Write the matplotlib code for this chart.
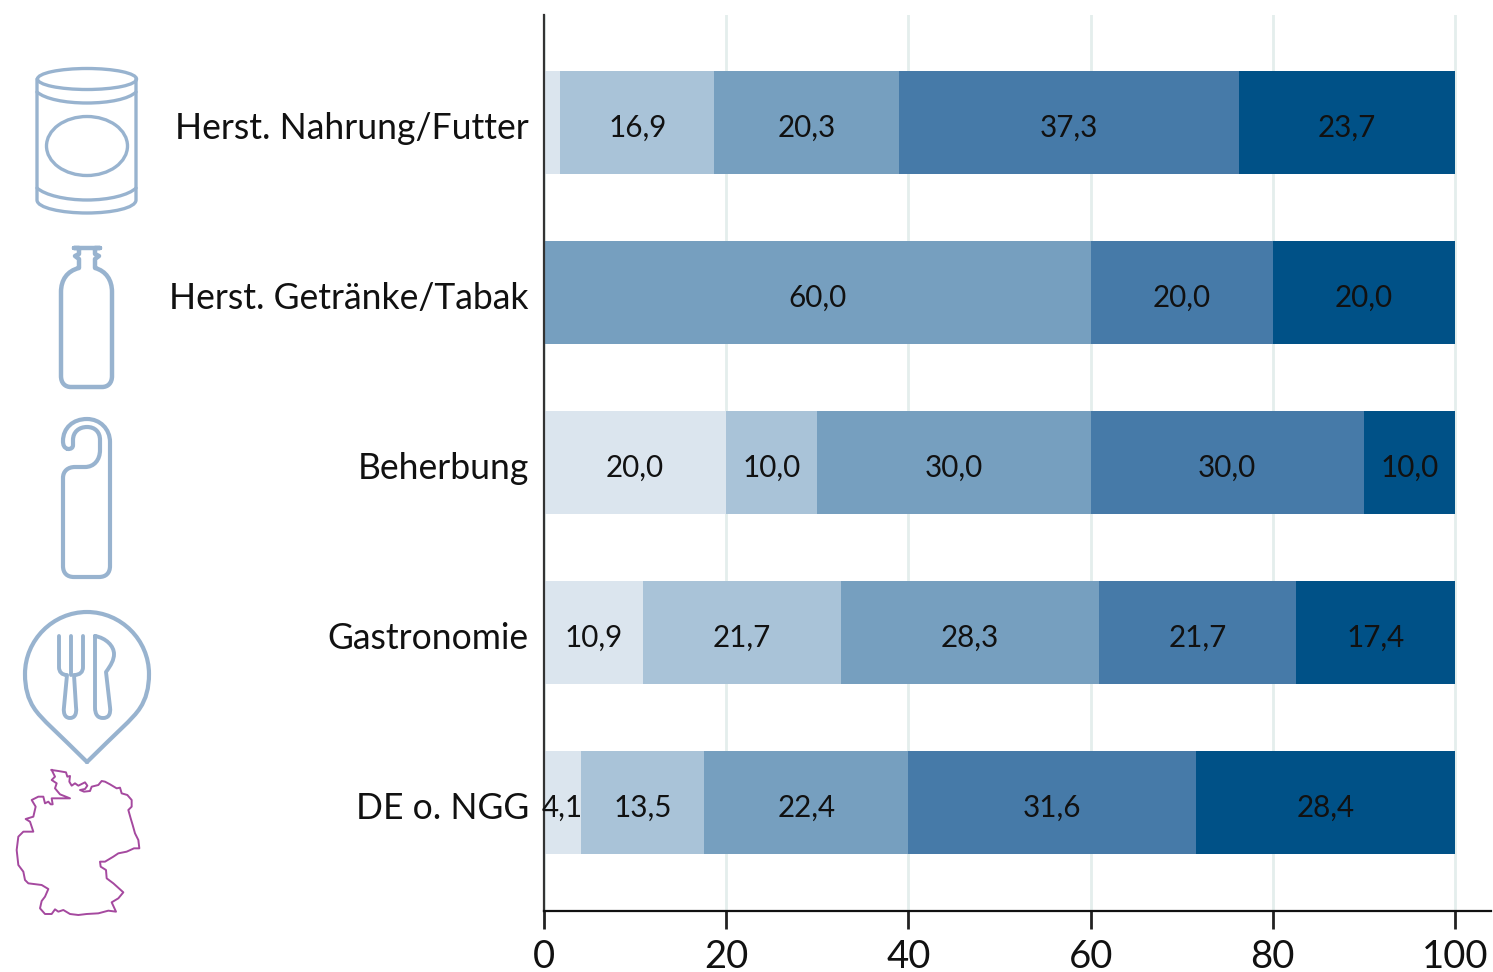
import numpy as np
import matplotlib
matplotlib.use('Agg')
import matplotlib.pyplot as plt
from matplotlib.path import Path
from matplotlib.patches import PathPatch, Ellipse

plt.rcParams['font.family'] = ['Lato', 'DejaVu Sans']

W, H = 1493, 972

categories = ['Herst. Nahrung/Futter', 'Herst. Getränke/Tabak', 'Beherbung', 'Gastronomie', 'DE o. NGG']
s1 = [1.8, 0, 20.0, 10.9, 4.1]
s2 = [16.9, 0, 10.0, 21.7, 13.5]
s3 = [20.3, 60.0, 30.0, 28.3, 22.4]
s4 = [37.3, 20.0, 30.0, 21.7, 31.6]
s5 = [23.7, 20.0, 10.0, 17.4, 28.4]
colors = ['#dbe5ee', '#a9c3d8', '#769fbf', '#467aa8', '#005187']
xticks = [0, 20, 40, 60, 80, 100]

fig = plt.figure(figsize=(W / 100, H / 100), dpi=100)
ax = fig.add_axes([544 / W, 1 - 911 / H, (1491 - 544) / W, (911 - 15) / H])

y = np.arange(len(categories))
left = np.zeros(len(categories))
for vals, col in zip([s1, s2, s3, s4, s5], colors):
    vals = np.array(vals)
    ax.barh(y, vals, left=left, height=0.605, color=col, zorder=2)
    for i, v in enumerate(vals):
        # die ganz kleinen Segmente bekommen keine Zahl
        if v >= 2:
            ax.text(left[i] + v / 2, i + 0.03, f'{v:.1f}'.replace('.', ','), ha='center', va='center',
                    fontsize=21.3, color='#111111', zorder=3)
    left += vals

# Kategorien etwas tiefer als die Balkenmitte
for i, name in enumerate(categories):
    ax.text(-1.65, i + 0.033, name, ha='right', va='center', fontsize=25.6, color='#111111')

ax.set_xlim(0, (1491 - 544) / 9.11)
ax.set_ylim(4 + (911 - 802.5) / 170, -(122.5 - 15) / 170)
ax.set_xticks(xticks)
ax.set_yticks([])
ax.tick_params(axis='x', labelsize=27.5, length=13, width=2, color='#222222', pad=7)
for t in ax.get_xticklabels():
    t.set_color('#111111')
ax.grid(axis='x', color='#e4eeec', lw=2, zorder=0)
ax.set_axisbelow(True)
ax.spines['top'].set_visible(False)
ax.spines['right'].set_visible(False)
ax.spines['left'].set_color('#333333')
ax.spines['left'].set_linewidth(1.6)
ax.spines['bottom'].set_color('#111111')
ax.spines['bottom'].set_linewidth(1.6)

# Piktogramme in Pixelkoordinaten
ic = fig.add_axes([0, 0, 1, 1], zorder=5)
ic.set_xlim(0, W)
ic.set_ylim(H, 0)
ic.axis('off')
ic.patch.set_alpha(0)

M, L, C = Path.MOVETO, Path.LINETO, Path.CURVE4


def draw(segs, lw=2.8, color='#98b3cf'):
    verts, codes = [], []
    for seg in segs:
        if len(seg) == 2:
            verts.append(seg)
            codes.append(L if codes else M)
        else:
            verts += [seg[:2], seg[2:4], seg[4:6]]
            codes += [C, C, C]
    ic.add_patch(PathPatch(Path(verts, codes), fc='none', ec=color, lw=lw,
                           capstyle='round', joinstyle='round'))


# Dose
ic.add_patch(Ellipse((87, 79), 99, 21, fc='none', ec='#98b3cf', lw=2.4))
ic.add_patch(Ellipse((87, 146), 81, 59, fc='none', ec='#98b3cf', lw=2.4))
draw([(37, 79), (37, 200), (37, 208, 62, 213, 87, 213), (112, 213, 136, 208, 136, 200), (136, 79)], 2.4)
draw([(37, 92), (45, 99, 65, 103, 87, 103), (109, 103, 129, 99, 136, 92)], 2.4)
draw([(37, 188), (45, 195, 65, 200, 87, 200), (109, 200, 129, 195, 136, 188)], 2.4)

# Flasche
draw([(74, 248), (100, 248), (95, 248), (95, 254), (99, 256), (95, 259), (95, 268),
      (106, 271, 112, 280, 112, 292), (112, 376), (112, 383, 108, 387, 102, 387), (71, 387),
      (65, 387, 61, 383, 61, 376), (61, 292), (61, 280, 67, 271, 79, 268), (79, 259), (75, 256),
      (79, 254), (79, 248), (74, 248)], 3.2)

# Türhänger
draw([(68, 449), (64, 448, 63, 445, 63, 441), (63, 428, 73, 419, 87, 419), (100, 419, 110, 429, 110, 442),
      (110, 566), (110, 573, 106, 577, 99, 577), (74, 577), (67, 577, 63, 573, 63, 566), (63, 478),
      (63, 471, 68, 467, 75, 467), (85, 467), (94, 467, 100, 460, 100, 450), (100, 440),
      (100, 432, 95, 427, 87, 427), (79, 427, 73, 432, 73, 440), (73, 445), (73, 448, 71, 449, 68, 449)], 3)

# Pin mit Besteck
draw([(87, 762), (60, 735, 40, 718, 34, 708), (28, 699, 25, 688, 25, 674),
      (25, 640, 53, 612, 87, 612), (121, 612, 149, 640, 149, 674), (149, 688, 146, 699, 140, 708),
      (134, 718, 114, 735, 87, 762)], 3)
draw([(59, 636), (59, 667), (59, 672, 62, 675, 67, 675), (64, 707), (63, 715, 66, 718, 70, 718),
      (74, 718, 77, 715, 76, 707), (74, 675), (80, 675, 83, 672, 83, 667), (83, 636)], 2.8)
draw([(71, 636), (71, 675)], 2.8)
draw([(95, 636), (95, 707), (95, 715, 98, 718, 103, 718), (108, 718, 111, 715, 110, 707), (106, 672),
      (111, 665, 114, 660, 114, 654), (114, 646, 106, 638, 95, 636)], 2.8)

# Deutschland
de_x = [125, 145, 168, 172, 180, 178, 185, 195, 205, 225, 232, 225, 210, 222, 240, 245, 265, 275, 285, 300,
        320, 330, 335, 352, 365, 365, 355, 362, 368, 375, 385, 388, 372, 350, 325, 310, 285, 270, 272, 288,
        290, 310, 340, 325, 305, 318, 295, 265, 230, 205, 180, 160, 145, 135, 125, 105, 90, 95, 105, 115,
        95, 55, 45, 40, 25, 20, 25, 40, 70, 60, 47, 70, 77, 65, 85, 100, 105, 115, 122, 128, 125, 180, 150,
        135, 140, 125, 135, 125]
de_y = [15, 18, 22, 35, 33, 50, 62, 55, 62, 52, 62, 72, 75, 80, 78, 65, 60, 48, 50, 58,
        70, 68, 85, 90, 105, 125, 135, 160, 180, 205, 225, 250, 250, 260, 265, 275, 290, 290, 305, 315,
        340, 355, 382, 400, 412, 440, 437, 445, 447, 450, 447, 435, 440, 433, 447, 447, 430, 408, 395, 372,
        360, 355, 345, 320, 300, 255, 215, 200, 200, 170, 162, 155, 125, 105, 95, 95, 115, 110, 118, 118, 100, 100, 88,
        70, 55, 45, 35, 15]
ic.plot(np.array(de_x) / 3 + 10, np.array(de_y) / 3 + 765, color='#a5499f', lw=1.4)

fig.savefig('out.png', dpi=100)
